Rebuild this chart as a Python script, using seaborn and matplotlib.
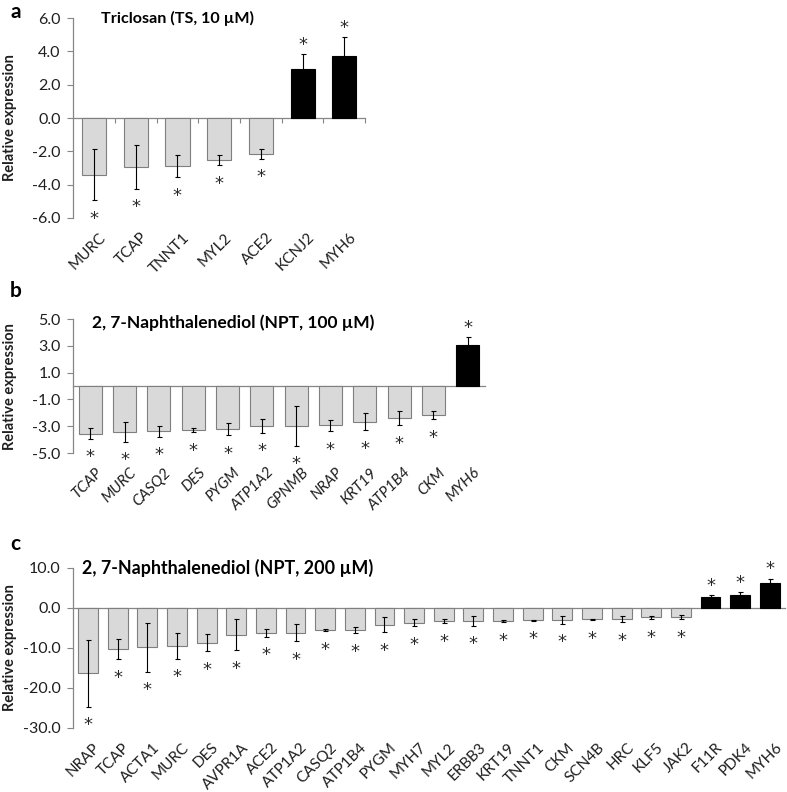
"""
Relative expression of cardiac genes after TS / NPT exposure (panels a-c)
"""
import numpy as np
import matplotlib
matplotlib.use('Agg')
import matplotlib.pyplot as plt
import seaborn as sns

sns.set_style('white')
plt.rcParams['font.family'] = ['Lato', 'DejaVu Sans']

GRAY = '#d9d9d9'
EDGE = '#7f7f7f'
AXIS = '#868686'
TEXT = '#1f1f1f'

# panel a: Triclosan (TS, 10 uM)
genes_a = ['MURC', 'TCAP', 'TNNT1', 'MYL2', 'ACE2', 'KCNJ2', 'MYH6']
vals_a = [-3.4, -2.95, -2.9, -2.55, -2.15, 2.95, 3.75]
errs_a = [1.55, 1.3, 0.67, 0.3, 0.3, 0.9, 1.1]

# panel b: NPT 100 uM
genes_b = ['TCAP', 'MURC', 'CASQ2', 'DES', 'PYGM', 'ATP1A2', 'GPNMB',
           'NRAP', 'KRT19', 'ATP1B4', 'CKM', 'MYH6']
vals_b = [-3.55, -3.4, -3.38, -3.28, -3.2, -2.98, -2.96, -2.93, -2.66,
          -2.41, -2.16, 3.06]
errs_b = [0.4, 0.75, 0.4, 0.17, 0.47, 0.5, 1.5, 0.43, 0.63, 0.53, 0.32, 0.6]

# panel c: NPT 200 uM
genes_c = ['NRAP', 'TCAP', 'ACTA1', 'MURC', 'DES', 'AVPR1A', 'ACE2', 'ATP1A2',
           'CASQ2', 'ATP1B4', 'PYGM', 'MYH7', 'MYL2', 'ERBB3', 'KRT19',
           'TNNT1', 'CKM', 'SCN4B', 'HRC', 'KLF5', 'JAK2', 'F11R', 'PDK4',
           'MYH6']
vals_c = [-16.4, -10.3, -9.9, -9.5, -8.75, -6.7, -6.25, -6.25, -5.6, -5.6,
          -4.25, -3.67, -3.33, -3.33, -3.25, -3.1, -3.0, -2.9, -2.8, -2.4,
          -2.35, 2.6, 3.1, 6.1]
errs_c = [8.3, 2.5, 6.1, 3.25, 2.15, 3.9, 1.0, 2.1, 0.3, 0.8, 1.9, 0.9, 0.5,
          1.2, 0.3, 0.15, 1.0, 0.2, 0.75, 0.45, 0.55, 0.6, 0.75, 1.2]

panels = [
    dict(letter='a', title='Triclosan (TS, 10 µM)', genes=genes_a, vals=vals_a,
         errs=errs_a, ylim=(-6, 6), yticks=np.arange(-6, 6.1, 2),
         rect=[0.093, 0.725, 0.371, 0.252], title_xy=(0.095, 1.0), title_size=11.6,
         width=0.58, italic=False, bound_ticks=True, letter_y=0.998),
    dict(letter='b', title='2, 7-Naphthalenediol (NPT, 100 µM)', genes=genes_b,
         vals=vals_b, errs=errs_b, ylim=(-5, 5), yticks=np.arange(-5, 5.1, 2),
         rect=[0.093, 0.428, 0.523, 0.169], title_xy=(0.046, 0.97), title_size=12.5,
         width=0.67, italic=True, bound_ticks=False, letter_y=0.645),
    dict(letter='c', title='2, 7-Naphthalenediol (NPT, 200 µM)', genes=genes_c,
         vals=vals_c, errs=errs_c, ylim=(-30, 10), yticks=np.arange(-30, 10.1, 10),
         rect=[0.093, 0.081, 0.904, 0.202], title_xy=(0.012, 1.0), title_size=12.9,
         width=0.67, italic=False, bound_ticks=False, letter_y=0.326),
]

fig = plt.figure(figsize=(7.87, 7.92), dpi=100)

for p in panels:
    ax = fig.add_axes(p['rect'])
    genes, vals, errs = p['genes'], p['vals'], p['errs']
    n = len(genes)
    colors = {g: ('black' if v > 0 else GRAY) for g, v in zip(genes, vals)}
    sns.barplot(x=genes, y=vals, hue=genes, palette=colors, legend=False,
                width=p['width'], errorbar=None, ax=ax, zorder=2)
    for patch, v in zip(ax.patches, vals):
        patch.set_edgecolor('black' if v > 0 else EDGE)
        patch.set_linewidth(0.8)
    ax.errorbar(np.arange(n), vals, yerr=errs, fmt='none', ecolor='black',
                elinewidth=0.8, capsize=1.8, capthick=0.8, zorder=3)

    # significance stars beyond the error bar
    for i, (v, e) in enumerate(zip(vals, errs)):
        sgn = 1 if v > 0 else -1
        ax.annotate('*', xy=(i, v + sgn * e), xytext=(0, sgn * 10 - 3.3),
                    textcoords='offset points', ha='center', va='center',
                    fontsize=13, family='DejaVu Sans', color='#2a2a2a')

    ax.set_xlim(-0.5, n - 0.5)
    ax.set_ylim(*p['ylim'])
    ax.set_yticks(p['yticks'])
    ax.set_yticklabels([f'{t:.1f}' for t in p['yticks']], fontsize=11.5, color=TEXT)
    # labels sit a few pixels right of the bar centre (ticks themselves hidden)
    shift = 5 / (p['rect'][2] * 787 / n)
    ax.set_xticks(np.arange(n) + shift)
    ax.set_xticklabels(genes, rotation=45, ha='right', rotation_mode='anchor',
                       fontsize=11, color=TEXT,
                       fontstyle='italic' if p['italic'] else 'normal')
    ax.tick_params(axis='x', length=0, pad=9)
    ax.tick_params(axis='y', direction='out', length=4, width=0.8, color=AXIS,
                   left=True, pad=5)
    for s in ['top', 'right', 'bottom']:
        ax.spines[s].set_visible(False)
    ax.spines['left'].set_color(AXIS)
    ax.spines['left'].set_linewidth(0.9)

    # category axis at zero
    sec = ax.secondary_xaxis(0, transform=ax.transData)
    sec.spines['bottom'].set_color(AXIS)
    sec.spines['bottom'].set_linewidth(0.9)
    if p['bound_ticks']:
        sec.set_xticks(np.arange(n) + 0.5)
        sec.tick_params(axis='x', direction='out', length=3.5, width=0.8,
                        color=AXIS, labelbottom=False)
    else:
        sec.set_xticks([])

    ax.text(p['title_xy'][0], p['title_xy'][1], p['title'], transform=ax.transAxes,
            ha='left', va='center', fontsize=p['title_size'], fontweight='bold',
            color='black')

    left, width = p['rect'][0], p['rect'][2]
    ax.set_ylabel('Relative expression', fontsize=10.5, fontweight='bold', color=TEXT)
    ax.yaxis.set_label_coords((17 / 787 - left) / width, 0.5)

    fig.text(0.013, p['letter_y'], p['letter'], ha='left', va='top',
             fontsize=15, fontweight='bold', color='black')

fig.savefig('out.png', dpi=100)
